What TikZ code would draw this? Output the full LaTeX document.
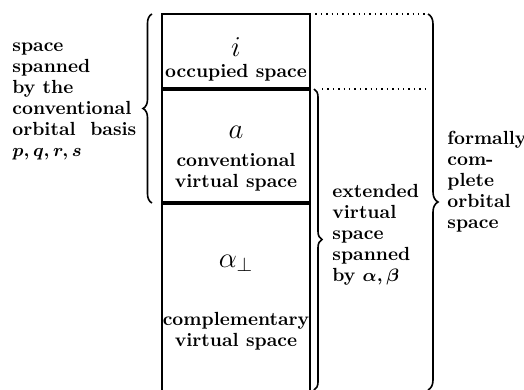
\documentclass[tikz,border=0pt]{standalone}
\usepackage{amsmath}
\usetikzlibrary{decorations.pathreplacing}
\tikzset{
  txt/.style={font=\fontsize{9.5}{10.5}\selectfont\bfseries,align=left,inner sep=0pt},
  ctxt/.style={font=\fontsize{9.5}{10.5}\selectfont\bfseries,align=center,inner sep=0pt},
  sym/.style={font=\Large,inner sep=0pt},
  brc/.style={decorate,decoration={brace,amplitude=#1},line width=.8pt},
  sep/.style={line width=1.8pt}
}
\begin{document}
\begin{tikzpicture}[x=0.5pt,y=-0.5pt]
		\useasboundingbox(0,0)rectangle(524,390);
		% box corners
		\coordinate(tl)at(162,14);
		\coordinate(tr)at(310,14);
		\coordinate(bl)at(162,390);
		\coordinate(br)at(310,390);
		\coordinate(ml)at(162,89);
		\coordinate(mr)at(310,89);
		\coordinate(ll)at(162,203);
		\coordinate(lr)at(310,203);
		\draw[line width=1.1pt](bl)--(tl)--(tr)--(br);
		\draw[sep](ml)--(mr);
		\draw[sep](ll)--(lr);
		% dotted extensions
		\coordinate(d1)at(428,14);
		\coordinate(d2a)at(322,89);
		\coordinate(d2)at(428,89);
		\draw[dotted,line width=.7pt](tr)--(d1);
		\draw[dotted,line width=.7pt](d2a)--(d2);
		% braces
		\draw[brc=4.5pt](152,203)--(152,14);
		\draw[brc=4pt](314,89)--(314,390);
		\draw[brc=5pt](d1)--(428,390);
		% box contents
		\node[sym](i)at(236,47){$i$};
		\node[ctxt](occ)at(236,73){occupied space};
		\node[sym](a)at(236,132){$a$};
		\node[ctxt](conv)at(236,172){conventional\\virtual space};
		\node[sym](alp)at(236,263){$\alpha_{\perp}$};
		\node[ctxt](comp)at(236,331){complementary\\virtual space};
		% side labels
		\node[txt,anchor=west](lft)at(12,101){space\\spanned\\by the\\conventional\\orbital\ \ basis\\$\boldsymbol{p,q,r,s}$};
		\node[txt,anchor=west](ext)at(332,235){extended\\virtual\\space\\spanned\\by $\boldsymbol{\alpha,\beta}$};
		\node[txt,anchor=west](full)at(447,182){formally\\com-\\plete\\orbital\\space};
	    \end{tikzpicture}
\end{document}
